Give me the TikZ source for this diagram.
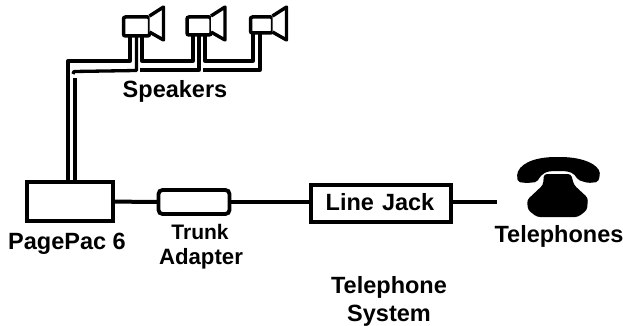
\documentclass[tikz,border=0pt]{standalone}
\usepackage{fontspec}
\setmainfont{Liberation Sans}
\newcommand{\horn}[1]{\draw[spkline,fill=white] ([yshift=1pt]#1.north east) -- ++(14,-9) -- ++(0,33) -- ++(-14,-8);}
\begin{document}
\begin{tikzpicture}
[x=1pt,y=-1pt,
 every node/.style={inner sep=0mm,outer sep=0mm},
 box/.style={rectangle,draw=black,line width=3.8pt,fill=white},
 spk/.style={box,rounded corners=2pt,line width=3.5pt},
 spkline/.style={line width=3.4pt,line join=round},
 wire/.style={line width=3.3pt,line join=round},
 trunkline/.style={line width=4pt},
 lbl/.style={anchor=base,font=\fontsize{23.5}{26}\bfseries\selectfont}]
\useasboundingbox (0,0) rectangle (623,326);

\node[box,minimum width=86pt,minimum height=39pt] (pp) at (70,201.5) {};
\node[box,minimum width=71pt,minimum height=24pt,rounded corners=4pt] (trk) at (194,202) {};
\node[box,minimum width=140pt,minimum height=37pt] (jack) at (381,203.5) {};
\coordinate (tel) at (497,202);
\path[trunkline] (pp)  edge (trk);
\path[trunkline] (trk) edge (trk -| jack.west);
\path[trunkline] (tel -| jack.east) edge (tel);

% speakers
\node[spk,minimum width=26pt,minimum height=19pt] (s1) at (136.5,26.5) {};
\node[spk,minimum width=24pt,minimum height=18pt] (s2) at (199,26) {};
\node[spk,minimum width=22pt,minimum height=16pt] (s3) at (261.5,25) {};
\horn{s1}
\horn{s2}
\horn{s3}

% paired wires up from the box
\coordinate (a1) at (68,61);
\coordinate (a2) at (130,61);
\coordinate (b1) at (75,78);
\coordinate (b2) at (73,74);
\coordinate (b3) at (74,71.5);
\coordinate (b4) at (136.5,70.5);
\coordinate (c1) at (142,61);
\coordinate (c2) at (193,61);
\coordinate (d1) at (140,70);
\coordinate (d2) at (199,70);
\coordinate (e1) at (205,61);
\coordinate (e2) at (253,61);
\coordinate (f1) at (203,70);
\coordinate (f2) at (260,70);
\draw[wire] (pp.north -| a1) -- (a1) -- (a2) -- (s1.south -| a2);
\draw[wire] (pp.north -| b1) -- (b1);
\draw[wire] (b2) -- (b3) -- (b4) -- (s1.south -| b4);
\draw[wire] (s1.south -| c1) -- (c1) -- (c2) -- (s2.south -| c2);
\draw[wire] (d1) -- (d2) -- (s2.south -| d2);
\draw[wire] (s2.south -| e1) -- (e1) -- (e2) -- (s3.south -| e2);
\draw[wire] (f1) -- (f2) -- (s3.south -| f2);

% telephone
\fill[black,rounded corners=2pt] (517,177) .. controls (518,165) and (532,157) .. (558,157)
  .. controls (584,157) and (599,165) .. (600,175) -- (598,182) -- (588,183) -- (578,180)
  .. controls (574,173) and (570,171) .. (558,171) .. controls (546,171) and (542,173) .. (537,182)
  -- (527,183) -- (518,182) -- cycle;
\fill[black,rounded corners=3pt] (544,174) -- (571,174) -- (574,185) -- (588,198) -- (587,210)
  -- (578,217) -- (537,217) -- (528,210) -- (527,200) -- (543,185) -- cycle;

\node at (175,98)  [lbl] (spkL)  {Speakers};
\node at (67,249)  [lbl] (ppL)   {PagePac 6};
\node at (200,239) [lbl,font=\fontsize{21}{24}\bfseries\selectfont] (trkL) {Trunk};
\node at (201,264) [lbl,font=\fontsize{22.2}{26}\bfseries\selectfont] (adpL) {Adapter};
\node at (380,210) [lbl] (jackL) {Line\hspace{8pt}Jack};
\node at (559,242) [lbl] (telL)  {Telephones};
\node at (389,293) [lbl] (tsysL) {Telephone};
\node at (389,321) [lbl] (sysL)  {System};
\end{tikzpicture}
\end{document}
